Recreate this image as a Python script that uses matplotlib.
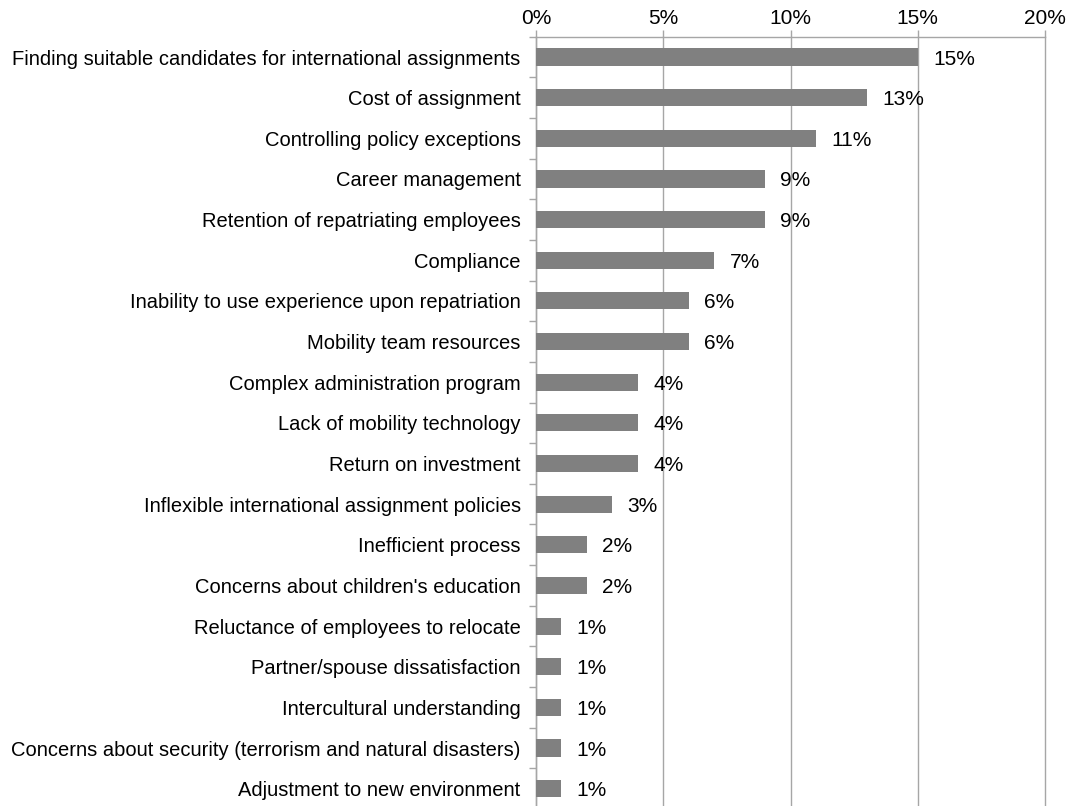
import matplotlib
matplotlib.use("Agg")
import matplotlib.pyplot as plt
from matplotlib.ticker import FuncFormatter, FixedLocator

categories = [
    "Finding suitable candidates for international assignments",
    "Cost of assignment",
    "Controlling policy exceptions",
    "Career management",
    "Retention of repatriating employees",
    "Compliance",
    "Inability to use experience upon repatriation",
    "Mobility team resources",
    "Complex administration program",
    "Lack of mobility technology",
    "Return on investment",
    "Inflexible international assignment policies",
    "Inefficient process",
    "Concerns about children's education",
    "Reluctance of employees to relocate",
    "Partner/spouse dissatisfaction",
    "Intercultural understanding",
    "Concerns about security (terrorism and natural disasters)",
    "Adjustment to new environment",
]
values = [15, 13, 11, 9, 9, 7, 6, 6, 4, 4, 4, 3, 2, 2, 1, 1, 1, 1, 1]
xticks = [0, 5, 10, 15, 20]

plt.rcParams['font.family'] = ['Liberation Sans', 'DejaVu Sans']

fig = plt.figure(figsize=(10.75, 8.06), dpi=100)
W, H = 1075, 806
left, right = 536 / W, 1045 / W
top_px, bot_px = 36.7, 809.0
ax = fig.add_axes([left, 1 - bot_px / H, right - left, (bot_px - top_px) / H])

n = len(categories)
ys = list(range(n))
ax.barh(ys, values, height=0.42, color="#808080", zorder=3)
ax.set_ylim(n - 0.5, -0.5)
ax.set_xlim(0, 20)

grid_c = "#a6a6a6"
ax.xaxis.set_major_locator(FixedLocator(xticks))
ax.xaxis.set_major_formatter(FuncFormatter(lambda v, p: f"{v:.0f}%"))
ax.xaxis.tick_top()
ax.tick_params(axis='x', which='major', length=5, width=1, color=grid_c,
               labelsize=15, pad=1.5, labelcolor="#000000")
ax.grid(axis='x', color=grid_c, linewidth=1, zorder=0)
for gl in ax.get_xgridlines():
    gl.set_clip_on(False)

ax.set_yticks(ys)
ax.set_yticklabels(categories, fontsize=14.5)
ax.set_yticks([y + 0.5 for y in range(-1, n)], minor=True)
ax.tick_params(axis='y', which='major', length=0, pad=11)
ax.tick_params(axis='y', which='minor', length=5, width=1, color=grid_c)

for s in ['bottom', 'right']:
    ax.spines[s].set_visible(False)
for s in ['top', 'left']:
    ax.spines[s].set_color(grid_c)
    ax.spines[s].set_linewidth(1)

for y, v in zip(ys, values):
    ax.annotate(f"{v}%", (v, y), xytext=(11, 0), textcoords="offset points",
                va="center_baseline", ha="left", fontsize=15)

fig.savefig("out.png", dpi=100)
